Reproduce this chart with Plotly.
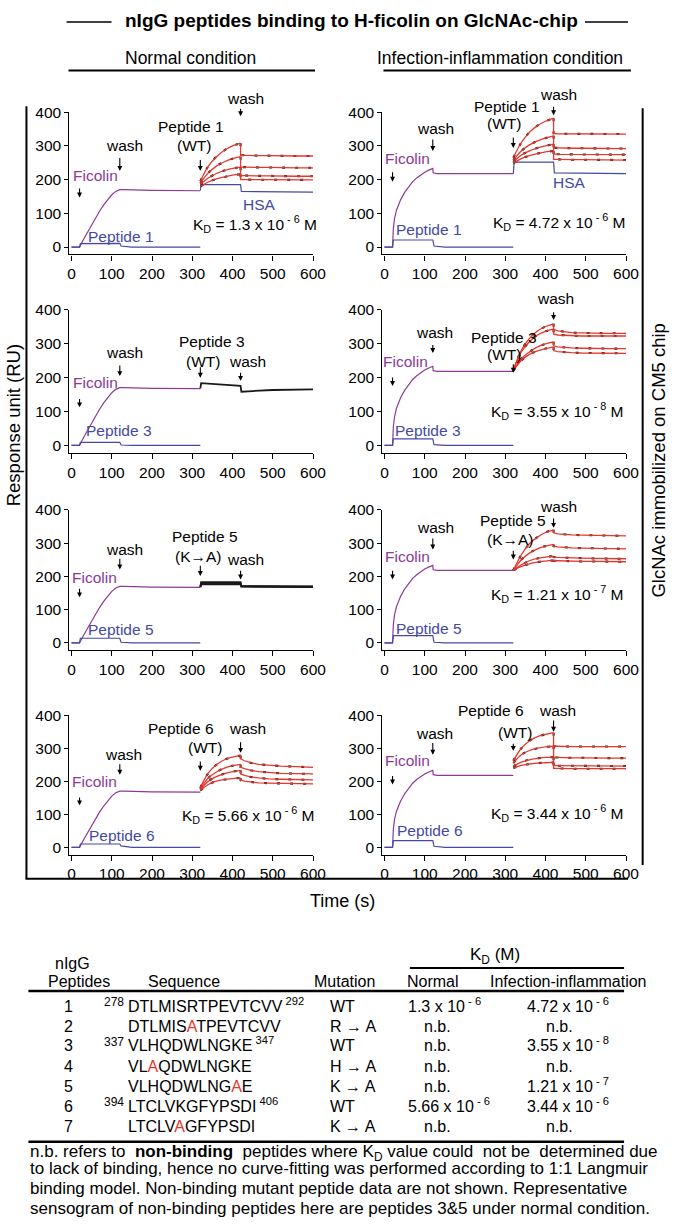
import plotly.graph_objects as go

W, H = 685, 1225
FONT = "Liberation Sans, Arial, Helvetica, sans-serif"
PURPLE = "#8d3a96"
BLUE = "#4549a3"
RED = "#e8362c"
DARK = "#1a1a1a"

# ---------------- data ----------------
X_TICKS = [0, 100, 200, 300, 400, 500, 600]
Y_TICKS = [0, 100, 200, 300, 400]

# Ficolin injection (purple)
FIC_T_NORMAL = [0, 20, 30, 40, 50, 60, 70, 80, 90, 100, 110, 120, 130, 200, 320]
FIC_NORMAL = [0, 0, 23, 45, 67, 88, 107, 125, 141, 155, 165, 170, 170, 168, 167]
FIC_T_INFL = [0, 20, 22, 25, 30, 40, 50, 60, 70, 80, 90, 100, 110, 120, 121, 130, 320]
FIC_INFL = [0, 0, 55, 85, 110, 140, 162, 180, 194, 205, 214, 222, 228, 233, 220, 218, 218]

# Peptide alone (blue reference curves)
PEP_T = [0, 20, 22, 120, 123, 150, 320]
PEP_N1 = [0, 0, 10, 11, 3, 0, 0]
PEP_N3 = [0, 0, 9, 9, 1, 0, 0]
PEP_N5 = [0, 0, 14, 14, 2, 0, 0]
PEP_N6 = [0, 0, 10, 10, 4, 0, 0]
PEP_I1 = [0, 0, 21, 21, 3, 0, 0]
PEP_I3 = [0, 0, 19, 19, 2, 0, 0]
PEP_I5 = [0, 0, 22, 22, 2, 0, 0]
PEP_I6 = [0, 0, 20, 20, 3, 0, 0]

# HSA control (row 1)
HSA_T = [320, 322, 420, 422, 600]
HSA_NORMAL = [168, 185, 185, 165, 163]
HSA_INFL = [218, 252, 252, 220, 218]

# Peptide binding: association (320-420 s) and dissociation (420-600 s)
T_ASSOC = [320, 340, 360, 380, 400, 420]
T_DISS = [420, 430, 445, 465, 490, 520, 560, 600]

N1_ASSOC = [[195, 240, 268, 287, 300, 308], [190, 220, 240, 253, 262, 268],
            [186, 205, 218, 227, 233, 237], [180, 193, 202, 208, 213, 216]]
N1_DISS = [[272, 272, 271, 271, 271, 270, 270, 270], [237, 237, 236, 236, 236, 235, 235, 235],
           [212, 212, 211, 211, 211, 210, 210, 210], [200, 200, 200, 199, 199, 199, 199, 199]]

N6_ASSOC = [[180, 225, 250, 265, 273, 278], [178, 210, 228, 240, 247, 251],
            [175, 200, 214, 223, 229, 233], [172, 190, 200, 205, 208, 210]]
N6_DISS = [[268, 262, 256, 251, 248, 246, 244, 242], [242, 238, 233, 229, 226, 224, 223, 222],
           [222, 218, 213, 210, 207, 206, 205, 204], [203, 200, 197, 195, 194, 193, 192, 192]]

I1_ASSOC = [[265, 310, 340, 360, 373, 382], [258, 285, 303, 315, 323, 330],
            [252, 273, 285, 294, 300, 305], [248, 262, 271, 277, 282, 285]]
I1_DISS = [[337, 336, 336, 336, 336, 335, 335, 335], [294, 294, 293, 293, 293, 293, 292, 292],
           [276, 275, 275, 275, 274, 274, 274, 274], [260, 260, 259, 259, 259, 259, 258, 258]]

I3_ASSOC = [[222, 280, 315, 337, 350, 358], [222, 275, 305, 325, 336, 342],
            [220, 255, 275, 290, 299, 305], [220, 250, 268, 278, 285, 290]]
I3_DISS = [[342, 337, 334, 332, 331, 330, 330, 330], [328, 325, 324, 323, 322, 322, 322, 322],
           [293, 290, 288, 287, 286, 285, 285, 285], [279, 276, 274, 273, 272, 272, 271, 271]]

I5_ASSOC = [[218, 265, 298, 318, 332, 340], [218, 250, 270, 283, 291, 296],
            [218, 235, 247, 254, 258, 261], [218, 230, 238, 243, 246, 248]]
I5_DISS = [[331, 328, 326, 325, 324, 323, 322, 322], [291, 289, 287, 286, 285, 284, 284, 283],
           [258, 257, 256, 255, 255, 254, 254, 253], [247, 247, 246, 246, 245, 245, 244, 244]]

I6_ASSOC = [[262, 300, 322, 335, 342, 347], [255, 280, 293, 300, 304, 306],
            [245, 258, 265, 269, 272, 273], [240, 248, 252, 255, 256, 257]]
I6_DISS = [[306, 306, 305, 305, 305, 305, 305, 305], [272, 272, 271, 271, 271, 270, 270, 270],
           [247, 247, 247, 246, 246, 246, 246, 246], [239, 239, 238, 238, 238, 238, 238, 238]]

# Non-binding peptides under normal condition (black sensograms)
N3_T = [320, 322, 420, 422, 450, 500, 600]
N3_VALS = [[168, 183, 175, 158, 160, 163, 165]]
N5_T = [320, 322, 420, 422, 600]
N5_VALS = [[168, 183, 183, 171, 170], [168, 179, 180, 170, 169], [168, 176, 177, 169, 168]]

# Table
TABLE_IDS = ["1", "2", "3", "4", "5", "6", "7"]
SEQ_START = ["278", "", "337", "", "", "394", ""]
SEQ_END = ["292", "", "347", "", "", "406", ""]
SEQ_TEXT = ["DTLMISRTPEVTCVV", "DTLMISATPEVTCVV", "VLHQDWLNGKE", "VLAQDWLNGKE",
            "VLHQDWLNGAE", "LTCLVKGFYPSDI", "LTCLVAGFYPSDI"]
SEQ_MUT_POS = [None, 6, None, 2, 9, None, 5]
MUTATION = ["WT", "R \u2192 A", "WT", "H \u2192 A", "K \u2192 A", "WT", "K \u2192 A"]
KD_NORMAL = [("1.3", 6), None, None, None, None, ("5.66", 6), None]
KD_INFL = [("4.72", 6), None, ("3.55", 8), None, ("1.21", 7), ("3.44", 6), None]

FOOTNOTE = [
    "n.b. refers to  <b>non-binding</b>  peptides where K<sub>D</sub> value could  not be  determined due",
    "to lack of binding, hence no curve-fitting was performed according to 1:1 Langmuir",
    "binding model. Non-binding mutant peptide data are not shown. Representative",
    "sensogram of non-binding peptides here are peptides 3&5 under normal condition.",
]

# ---------------- layout helpers ----------------
XR = (-5, 600)
YR = (-22, 400)
COL_X = [(69, 318), (389, 638)]
ROW_Y = [(104, 247.5), (303, 447.5), (505, 646.5), (712, 852.5)]


def px(x):
    return x / W


def py(y):
    return 1 - y / H


def kd_str(m, e):
    return f"{m} x 10<sup> - {e}</sup>"


fig = go.Figure()
annotations = []
shapes = []
layout_axes = {}


def axid(i):
    return "" if i == 1 else str(i)


def line(i, x, y, color, width, shape="linear", dash=None):
    fig.add_trace(go.Scatter(
        x=x, y=y, mode="lines",
        line=dict(color=color, width=width, shape=shape, dash=dash),
        xaxis="x" + axid(i), yaxis="y" + axid(i),
        showlegend=False, hoverinfo="skip"))


def panel_px(p, x, v):
    x0, x1 = COL_X[p["col"]]
    y0, y1 = ROW_Y[p["row"]]
    X = x0 + (x - XR[0]) / (XR[1] - XR[0]) * (x1 - x0)
    Y = y1 - (v - YR[0]) / (YR[1] - YR[0]) * (y1 - y0)
    return X, Y


def text(p, s, x, v, color="black", size=15.5, xanchor="center"):
    X, Y = panel_px(p, x, v)
    annotations.append(dict(text=s, x=px(X), y=py(Y), xref="paper", yref="paper",
                            showarrow=False, xanchor=xanchor, yanchor="middle",
                            font=dict(size=size, color=color, family=FONT)))


def arrow(p, x, tip, tail):
    X, Yt = panel_px(p, x, tip)
    _, Yb = panel_px(p, x, tail)
    annotations.append(dict(text="", x=px(X), y=py(Yt), xref="paper", yref="paper",
                            ax=0, ay=-(Yt - Yb),
                            showarrow=True, arrowhead=2, arrowsize=0.9,
                            arrowwidth=1.1, arrowcolor="black"))


PANELS = [
    dict(i=1, col=0, row=0, cond="N", pep="1", blue=PEP_N1, assoc=N1_ASSOC, diss=N1_DISS, hsa=HSA_NORMAL,
         kd=KD_NORMAL[0], mut="(WT)",
         labels=dict(wash2=(432, 441), pep=(297, 358), mut=(305, 300), wash1=(132, 300), fic=(59, 212),
                     hsa=(467, 127), kd=(616, 68), blue=(124, 32)),
         arrows=[(420, 388, 414), (320, 226, 262), (120, 226, 268), (20, 147, 178)]),
    dict(i=2, col=1, row=0, cond="I", pep="1", blue=PEP_I1, assoc=I1_ASSOC, diss=I1_DISS, hsa=HSA_INFL,
         kd=KD_INFL[0], mut="(WT)",
         labels=dict(wash2=(433, 452), pep=(304, 416), mut=(298, 366), wash1=(126, 353), fic=(56, 263),
                     hsa=(460, 191), kd=(605, 74), blue=(110, 51)),
         arrows=[(420, 391, 420), (320, 294, 329), (120, 285, 323), (20, 194, 226)]),
    dict(i=3, col=0, row=1, cond="N", pep="3", blue=PEP_N3, black_t=N3_T, black=N3_VALS,
         kd=None, mut="(WT)",
         labels=dict(wash2=(436, 248), pep=(348, 307), mut=(327, 248), wash1=(131, 272), fic=(59, 185),
                     blue=(118, 44)),
         arrows=[(420, 190, 218), (320, 199, 234), (120, 204, 239), (20, 112, 141)]),
    dict(i=4, col=1, row=1, cond="I", pep="3", blue=PEP_I3, assoc=I3_ASSOC, diss=I3_DISS,
         kd=KD_INFL[2], mut="(WT)",
         labels=dict(wash2=(424, 433), pep=(296, 318), mut=(296, 268), wash1=(125, 331), fic=(53, 248),
                     kd=(600, 100), blue=(109, 44)),
         arrows=[(420, 369, 396), (320, 214, 243), (120, 272, 300), (20, 175, 204)]),
    dict(i=5, col=0, row=2, cond="N", pep="5", blue=PEP_N5, black_t=N5_T, black=N5_VALS,
         kd=None, mut="(K\u2192A)",
         labels=dict(wash2=(433, 251), pep=(331, 320), mut=(315, 261), wash1=(131, 281), fic=(56, 198),
                     blue=(122, 39)),
         arrows=[(420, 191, 221), (320, 201, 236), (120, 221, 257), (20, 137, 167)]),
    dict(i=6, col=1, row=2, cond="I", pep="5", blue=PEP_I5, assoc=I5_ASSOC, diss=I5_DISS,
         kd=KD_INFL[4], mut="(K\u2192A)",
         labels=dict(wash2=(433, 410), pep=(318, 368), mut=(313, 310), wash1=(126, 347), fic=(56, 261),
                     kd=(600, 146), blue=(110, 42)),
         arrows=[(420, 346, 378), (320, 251, 281), (120, 281, 318), (20, 191, 221)]),
    dict(i=7, col=0, row=3, cond="N", pep="6", blue=PEP_N6, assoc=N6_ASSOC, diss=N6_DISS,
         kd=KD_NORMAL[5], mut="(WT)",
         labels=dict(wash2=(438, 361), pep=(271, 361), mut=(331, 301), wash1=(129, 281), fic=(56, 198),
                     kd=(611, 97), blue=(125, 36)),
         arrows=[(420, 286, 322), (320, 232, 264), (120, 220, 256), (20, 127, 155)]),
    dict(i=8, col=1, row=3, cond="I", pep="6", blue=PEP_I6, assoc=I6_ASSOC, diss=I6_DISS,
         kd=KD_INFL[5], mut="(WT)",
         labels=dict(wash2=(431, 415), pep=(265, 415), mut=(324, 349), wash1=(125, 346), fic=(56, 262),
                     kd=(600, 105), blue=(114, 52)),
         arrows=[(420, 350, 388), (320, 292, 318), (120, 280, 320), (20, 190, 220)]),
]

for p in PANELS:
    i = p["i"]
    x0, x1 = COL_X[p["col"]]
    y0, y1 = ROW_Y[p["row"]]
    common = dict(showline=True, linecolor="black", linewidth=1.3, ticks="outside",
                  tickcolor="black", tickwidth=1.3, showgrid=False, zeroline=False,
                  tickfont=dict(size=15.5, family=FONT, color="black"), fixedrange=True)
    layout_axes["xaxis" + axid(i)] = dict(domain=[px(x0), px(x1)], range=list(XR), tickvals=X_TICKS,
                                         ticklen=5, anchor="y" + axid(i), **common)
    layout_axes["yaxis" + axid(i)] = dict(domain=[py(y1), py(y0)], range=list(YR), tickvals=Y_TICKS,
                                         ticklen=4, anchor="x" + axid(i), **common)

    # ficolin
    if p["cond"] == "N":
        line(i, FIC_T_NORMAL, FIC_NORMAL, PURPLE, 1.2)
    else:
        line(i, FIC_T_INFL, FIC_INFL, PURPLE, 1.2)
    # peptide-alone reference
    line(i, PEP_T, p["blue"], BLUE, 1.2)
    # HSA
    if p.get("hsa"):
        line(i, HSA_T, p["hsa"], BLUE, 1.2)
    # binding curves: black data under red fits
    if "assoc" in p:
        for a, d in zip(p["assoc"], p["diss"]):
            line(i, T_ASSOC, a, DARK, 2.1, shape="spline", dash="3px,10px")
            line(i, [T_ASSOC[-1]] + T_DISS, [a[-1]] + d, DARK, 2.1, dash="3px,10px")
        for a, d in zip(p["assoc"], p["diss"]):
            line(i, T_ASSOC, a, RED, 1.3, shape="spline")
            line(i, [T_ASSOC[-1]] + T_DISS, [a[-1]] + d, RED, 1.3)
    if "black" in p:
        for v in p["black"]:
            line(i, p["black_t"], v, DARK, 1.8)

    L = p["labels"]
    text(p, "wash", *L["wash2"])
    text(p, "Peptide " + p["pep"], *L["pep"])
    text(p, p["mut"], *L["mut"])
    text(p, "wash", *L["wash1"])
    text(p, "Ficolin", *L["fic"], color=PURPLE)
    text(p, "Peptide " + p["pep"], *L["blue"], color=BLUE)
    if "hsa" in L:
        text(p, "HSA", *L["hsa"], color=BLUE)
    if p["kd"]:
        m, e = p["kd"]
        text(p, "K<sub>D</sub> = " + kd_str(m, e) + " M", *L["kd"], xanchor="right")
    for ax_, tip, tail in p["arrows"]:
        arrow(p, ax_, tip, tail)


def ptext(s, x, y, size=16, xanchor="center", yanchor="middle", color="black", angle=0):
    annotations.append(dict(text=s, x=px(x), y=py(y), xref="paper", yref="paper", showarrow=False,
                            xanchor=xanchor, yanchor=yanchor, textangle=angle,
                            font=dict(size=size, color=color, family=FONT)))


def pline(x0, y0, x1, y1, w=2):
    shapes.append(dict(type="line", xref="paper", yref="paper", x0=px(x0), y0=py(y0), x1=px(x1), y1=py(y1),
                       line=dict(color="black", width=w)))


# headings
ptext("<b>nIgG peptides binding to H-ficolin on GlcNAc-chip</b>", 357, 12, size=19)
pline(66, 13, 112, 13, 1.5)
pline(596, 13, 640, 13, 1.5)
ptext("Normal condition", 193, 49, size=17.5)
pline(68, 62, 320, 62, 2)
ptext("Infection-inflammation condition", 509, 49, size=17.5)
pline(390, 62, 643, 62, 2)

# frame
pline(25, 98, 25, 877, 2)
pline(24, 877, 640, 877, 2)
pline(655, 100, 655, 863, 2)
ptext("Response unit (RU)", 12, 420, size=18.5, angle=-90)
ptext("GlcNAc immobilized on CM5 chip", 671, 455, size=18.5, angle=-90)
ptext("Time (s)", 348, 899, size=18)

# table
ptext("K<sub>D</sub> (M)", 504, 955, size=17)
pline(417, 967, 636, 967, 2)
ptext("nIgG", 72, 962)
for s, x in [("Peptides", 79), ("Sequence", 186), ("Mutation", 350), ("Normal", 441),
             ("Infection-inflammation", 579)]:
    ptext(s, x, 980)
pline(27, 990, 636, 990, 2.5)
pline(27, 1142, 636, 1142, 2.5)

ROW_CY = [1007, 1027, 1047, 1068, 1088, 1108, 1128]
for k in range(len(TABLE_IDS)):
    cy = ROW_CY[k]
    b = cy + 9
    ptext(TABLE_IDS[k], 68, b, yanchor="bottom")
    seq = SEQ_TEXT[k]
    mp = SEQ_MUT_POS[k]
    if mp is not None:
        seq = seq[:mp] + f"<span style='color:{RED}'>" + seq[mp] + "</span>" + seq[mp + 1:]
    if SEQ_END[k]:
        seq = seq + "<sup> " + SEQ_END[k] + "</sup>"
    ptext(seq, 127, b, xanchor="left", yanchor="bottom")
    if SEQ_START[k]:
        ptext(SEQ_START[k], 127, cy - 6, size=12, xanchor="right")
    ptext(MUTATION[k], 333, b, xanchor="left", yanchor="bottom")
    if KD_NORMAL[k]:
        ptext(kd_str(*KD_NORMAL[k]), 413, b, xanchor="left", yanchor="bottom")
    else:
        ptext("n.b.", 445, b, yanchor="bottom")
    if KD_INFL[k]:
        ptext(kd_str(*KD_INFL[k]), 535, b, xanchor="left", yanchor="bottom")
    else:
        ptext("n.b.", 570, b, yanchor="bottom")

for j, s in enumerate(FOOTNOTE):
    extra = 6 if "<sub>" in s else 0
    ptext(s, 27, 1153 + 20 * j + 8 + extra, size=17, xanchor="left", yanchor="bottom")

fig.update_layout(width=W, height=H, margin=dict(l=0, r=0, t=0, b=0, pad=0),
                  paper_bgcolor="white", plot_bgcolor="rgba(0,0,0,0)", showlegend=False,
                  font=dict(family=FONT, color="black", size=15),
                  annotations=annotations, shapes=shapes, **layout_axes)

fig.write_html("out.html", config={"displayModeBar": False},
               post_script="document.body.style.margin='0px';")
